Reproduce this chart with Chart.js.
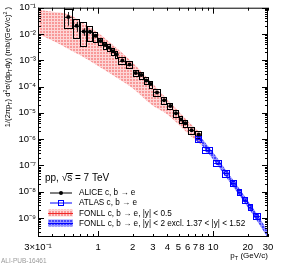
<!DOCTYPE html>
<html>
<head>
<meta charset="utf-8">
<script src="https://cdn.jsdelivr.net/npm/chart.js@4.4.0/dist/chart.umd.min.js"></script>
<style>
  html, body { margin: 0; padding: 0; background: #fff; }
  #wrap { width: 299px; height: 264px; }
</style>
</head>
<body>
<div id="wrap"><canvas id="myChart" width="299" height="264"></canvas></div>
<script>
// ALICE c,b -> e (bin edges, centres, values, stat err, syst box)
const aliceEdges = [0.5, 0.6, 0.7, 0.8, 0.9, 1.0, 1.1, 1.2, 1.3, 1.4, 1.5, 1.75, 2.0, 2.25, 2.5, 2.75, 3, 3.5, 4, 4.5, 5, 5.5, 6, 7, 8];
const alicePt = [0.55, 0.65, 0.75, 0.85, 0.95, 1.05, 1.15, 1.25, 1.35, 1.45, 1.625, 1.875, 2.125, 2.375, 2.625, 2.875, 3.25, 3.75, 4.25, 4.75, 5.25, 5.75, 6.5, 7.5];
const aliceY = [0.0447, 0.0205, 0.0125, 0.0122, 0.00863, 0.00541, 0.00383, 0.00306, 0.00222, 0.00167, 0.00098, 0.00069, 0.00033, 0.000273, 0.000169, 0.000124, 6.0e-5, 3.05e-5, 1.82e-5, 9.7e-6, 5.6e-6, 4.0e-6, 2.2e-6, 1.5e-6];
const aliceStat = [0.024, 0.0085, 0.004, 0.002, 0.0012, 0.0005, 0.0003, 0.0002, 0.00015, 0.0001, 5e-5, 3.5e-5, 1.5e-5, 1.2e-5, 8e-6, 6e-6, 3e-6, 1.5e-6, 9e-7, 5e-7, 3e-7, 2.2e-7, 1.2e-7, 1e-7];
const aliceSysHi = [0.0863, 0.0372, 0.029, 0.0193, 0.0115, 0.00713, 0.00505, 0.00406, 0.0030, 0.00222, 0.00132, 0.00093, 0.000446, 0.000369, 0.000228, 0.000167, 8.1e-5, 4.1e-5, 2.46e-5, 1.31e-5, 7.6e-6, 5.4e-6, 3.0e-6, 2.0e-6];
const aliceSysLo = [0.0165, 0.00684, 0.00363, 0.0056, 0.00483, 0.00373, 0.00275, 0.00222, 0.00164, 0.00121, 0.000725, 0.00051, 0.000244, 0.000202, 0.000125, 9.2e-5, 4.4e-5, 2.26e-5, 1.35e-5, 7.2e-6, 4.1e-6, 3.0e-6, 1.63e-6, 1.1e-6];

// ATLAS c,b -> e
const atlasEdges = [7, 8, 10, 12, 14, 16, 18, 20, 22, 26];
const atlasPt = [7.5, 9, 11, 13, 15, 17, 19, 21, 24];
const atlasY = [9.75e-7, 3.86e-7, 1.29e-7, 4.96e-8, 2.09e-8, 9.6e-9, 4.95e-9, 2.6e-9, 1.17e-9];
const atlasStat = [3e-8, 1.2e-8, 4e-9, 1.5e-9, 7e-10, 3.5e-10, 2e-10, 1.2e-10, 6e-11];
const atlasSysHi = [1.27e-6, 5.0e-7, 1.68e-7, 6.45e-8, 2.72e-8, 1.25e-8, 6.4e-9, 3.4e-9, 1.52e-9];
const atlasSysLo = [7.5e-7, 2.97e-7, 9.9e-8, 3.8e-8, 1.61e-8, 7.4e-9, 3.8e-9, 2.0e-9, 9.0e-10];

// FONLL |y| < 0.5 (red band)
const fonllPt = [0.3, 0.4, 0.55, 0.7, 1, 1.5, 2, 3, 4, 5, 6, 8];
const fonllMid = [0.042, 0.034, 0.0257, 0.0169, 0.00684, 0.00157, 3.93e-4, 6.95e-5, 2.25e-5, 8.7e-6, 3.66e-6, 1.0e-6];
const fonllHi = [0.084, 0.0695, 0.056, 0.0306, 0.0110, 0.00257, 8.1e-4, 1.26e-4, 3.24e-5, 1.18e-5, 4.95e-6, 1.54e-6];
const fonllLo = [0.0099, 0.0056, 0.0027, 0.00154, 6.1e-4, 2.0e-4, 8.7e-5, 1.85e-5, 8.7e-6, 3.66e-6, 1.68e-6, 5.9e-7];

// FONLL |y| < 2 (blue band)
const fonll2Pt = [7, 8, 10, 12, 15, 20, 25, 30];
const fonll2Mid = [1.36e-6, 7.7e-7, 2.3e-7, 7.8e-8, 2.03e-8, 3.45e-9, 8.3e-10, 2.25e-10];
const fonll2Hi = [1.84e-6, 1.04e-6, 3.1e-7, 1.05e-7, 2.74e-8, 4.66e-9, 1.12e-9, 3.04e-10];
const fonll2Lo = [1.0e-6, 5.7e-7, 1.7e-7, 5.8e-8, 1.5e-8, 2.56e-9, 6.1e-10, 1.67e-10];

// axes
const xTickVals = [0.3, 1, 2, 3, 4, 5, 6, 7, 8, 10, 20, 30];
const xTickLabels = ["3\u00d710\u207b\u00b9", "1", "2", "3", "4", "5", "6", "7", "8", "10", "20", "30"];
const yTickVals = [1e-9, 1e-8, 1e-7, 1e-6, 1e-5, 1e-4, 1e-3, 1e-2, 1e-1];
const yTickLabels = ["10\u207b\u2079", "10\u207b\u2078", "10\u207b\u2077", "10\u207b\u2076", "10\u207b\u2075", "10\u207b\u2074", "10\u207b\u00b3", "10\u207b\u00b2", "10\u207b\u00b9"];

const legendLabels = ["ALICE c, b \u2192 e", "ATLAS c, b \u2192 e", "FONLL c, b \u2192 e, |y| < 0.5", "FONLL c, b \u2192 e, |y| < 2 excl. 1.37 < |y| < 1.52"];
const systemLabel = "pp, \u221as = 7 TeV";

const FONT = "'Liberation Sans', Arial, sans-serif";

function makePattern(bg, fg) {
  const c = document.createElement("canvas");
  c.width = 3; c.height = 3;
  const g = c.getContext("2d");
  g.fillStyle = bg; g.fillRect(0, 0, 3, 3);
  g.fillStyle = fg; g.fillRect(0, 0, 3, 1); g.fillRect(0, 0, 1, 3);
  return g.createPattern(c, "repeat");
}
const redFill = makePattern("rgb(248,152,152)", "rgb(253,214,214)");
const blueFill = makePattern("rgb(70,70,255)", "rgb(150,150,255)");

function pts(xs, ys) { return xs.map((x, i) => ({ x: x, y: ys[i] })); }

// text with sub/superscript pieces
function richWidth(ctx, parts, size) {
  let w = 0;
  for (const p of parts) {
    const s = p.sub || p.sup ? size * 0.7 : size;
    ctx.font = s + "px " + FONT;
    w += ctx.measureText(p.t).width;
  }
  return w;
}
function drawRich(ctx, parts, x, y, size) {
  for (const p of parts) {
    const s = p.sub || p.sup ? size * 0.7 : size;
    ctx.font = s + "px " + FONT;
    let dy = 0;
    if (p.sub) dy = size * 0.25;
    if (p.sup) dy = -size * 0.4;
    ctx.fillText(p.t, x, y + dy);
    x += ctx.measureText(p.t).width;
  }
}

const errorBoxes = {
  id: "errorBoxes",
  beforeDatasetDraw(chart, args) {
    if (args.index !== 1) return;
    const { ctx, chartArea: a, scales: { x, y } } = chart;
    ctx.save();
    ctx.beginPath();
    ctx.rect(a.left, a.top, a.right - a.left, a.bottom - a.top);
    ctx.clip();
    ctx.lineWidth = 1;
    function boxes(edges, hi, lo, color) {
      ctx.strokeStyle = color;
      for (let i = 0; i < hi.length; i++) {
        const x0 = Math.round(x.getPixelForValue(edges[i])) + 0.5;
        const x1 = Math.round(x.getPixelForValue(edges[i + 1])) - 0.5;
        const y0 = Math.round(y.getPixelForValue(hi[i])) + 0.5;
        const y1 = Math.round(y.getPixelForValue(lo[i])) + 0.5;
        ctx.strokeRect(x0, y0, x1 - x0, y1 - y0);
      }
    }
    function bars(edges, xs, ys, st, color) {
      ctx.strokeStyle = color;
      ctx.beginPath();
      for (let i = 0; i < xs.length; i++) {
        const px = Math.round(x.getPixelForValue(xs[i])) + 0.5;
        const py = Math.round(y.getPixelForValue(ys[i])) + 0.5;
        ctx.moveTo(px, y.getPixelForValue(ys[i] + st[i]));
        ctx.lineTo(px, y.getPixelForValue(Math.max(ys[i] - st[i], 1e-12)));
        ctx.moveTo(x.getPixelForValue(edges[i]) + 1, py);
        ctx.lineTo(x.getPixelForValue(edges[i + 1]) - 1, py);
      }
      ctx.stroke();
    }
    boxes(aliceEdges, aliceSysHi, aliceSysLo, "#000");
    boxes(atlasEdges, atlasSysHi, atlasSysLo, "#00f");
    bars(aliceEdges, alicePt, aliceY, aliceStat, "#222");
    bars(atlasEdges, atlasPt, atlasY, atlasStat, "#00f");
    ctx.restore();
  }
};

const frameAndText = {
  id: "frameAndText",
  afterDraw(chart) {
    const { ctx, chartArea: a, scales: { x, y } } = chart;
    ctx.save();
    ctx.strokeStyle = "#000";
    ctx.lineWidth = 1;
    ctx.strokeRect(a.left + 0.5, a.top + 0.5, a.right - a.left - 1, a.bottom - a.top - 1);

    // tick marks inside the frame
    ctx.beginPath();
    for (let e = -10; e <= -1; e++) {
      for (let m = 1; m <= 9; m++) {
        const v = m * Math.pow(10, e);
        if (v < y.min * 0.999 || v > y.max * 1.001) continue;
        const py = Math.round(y.getPixelForValue(v)) + 0.5;
        const len = m === 1 ? 6 : 3;
        ctx.moveTo(a.left, py); ctx.lineTo(a.left + len, py);
        ctx.moveTo(a.right, py); ctx.lineTo(a.right - len, py);
      }
    }
    for (let e = -1; e <= 1; e++) {
      for (let m = 1; m <= 9; m++) {
        const v = m * Math.pow(10, e);
        if (v < x.min * 0.999 || v > x.max * 1.001) continue;
        const px = Math.round(x.getPixelForValue(v)) + 0.5;
        const len = m === 1 ? 6 : 3;
        ctx.moveTo(px, a.bottom); ctx.lineTo(px, a.bottom - len);
        ctx.moveTo(px, a.top); ctx.lineTo(px, a.top + len);
      }
    }
    ctx.stroke();

    ctx.fillStyle = "#000";
    ctx.textBaseline = "alphabetic";
    // x title
    const xt = [{ t: "p" }, { t: "T", sub: true }, { t: " (GeV/c)" }];
    const xw = richWidth(ctx, xt, 8);
    drawRich(ctx, xt, a.right - xw, 258, 8);

    // y title, rotated
    const yt = [{ t: "1/(2\u03c0p" }, { t: "T", sub: true }, { t: ") d" }, { t: "2", sup: true }, { t: "\u03c3/(dp" }, { t: "T", sub: true }, { t: "dy) (mb/(GeV/c)" }, { t: "2", sup: true }, { t: " )" }];
    ctx.save();
    ctx.translate(10, 7);
    ctx.rotate(-Math.PI / 2);
    const yw = richWidth(ctx, yt, 7.6);
    drawRich(ctx, yt, -yw, 0, 7.6);
    ctx.restore();

    // legend
    ctx.font = "10px " + FONT;
    ctx.fillText(systemLabel, 45, 181);
    const preW = ctx.measureText("pp, \u221a").width;
    const sW = ctx.measureText("s").width;
    ctx.beginPath(); ctx.moveTo(45 + preW - 0.5, 173.5); ctx.lineTo(45 + preW + sW + 0.5, 173.5); ctx.stroke();

    const rows = [192.5, 202.5, 213, 223];
    ctx.font = "8.2px " + FONT;
    ctx.textBaseline = "middle";
    legendLabels.forEach((t, i) => ctx.fillText(t, 79, rows[i] + 0.5));

    ctx.lineWidth = 1;
    ctx.strokeStyle = "#000";
    ctx.beginPath(); ctx.moveTo(50, rows[0] + 0.5); ctx.lineTo(72, rows[0] + 0.5); ctx.stroke();
    ctx.fillStyle = "#000";
    ctx.beginPath(); ctx.arc(61, rows[0] + 0.5, 2, 0, Math.PI * 2); ctx.fill();

    ctx.strokeStyle = "#00f";
    ctx.beginPath(); ctx.moveTo(50, rows[1] + 0.5); ctx.lineTo(72, rows[1] + 0.5); ctx.stroke();
    ctx.strokeRect(58.5, rows[1] - 2, 5, 5);

    ctx.fillStyle = redFill;
    ctx.fillRect(48, rows[2] - 3.5, 25, 7);
    ctx.strokeStyle = "rgb(240,40,40)";
    ctx.beginPath(); ctx.moveTo(48, rows[2] + 0.5); ctx.lineTo(73, rows[2] + 0.5); ctx.stroke();
    ctx.fillStyle = blueFill;
    ctx.fillRect(48, rows[3] - 3.5, 25, 7);
    ctx.strokeStyle = "#00f";
    ctx.beginPath(); ctx.moveTo(48, rows[3] + 0.5); ctx.lineTo(73, rows[3] + 0.5); ctx.stroke();

    ctx.textBaseline = "alphabetic";
    ctx.fillStyle = "#9a9a9a";
    ctx.font = "6.5px " + FONT;
    ctx.fillText("ALI-PUB-16461", 1, 263);
    ctx.restore();
  }
};

const config = {
  type: "line",
  data: {
    datasets: [
      { label: "ALICE", type: "scatter", data: pts(alicePt, aliceY), pointStyle: "circle", pointRadius: 2, backgroundColor: "#000", borderColor: "#000", borderWidth: 0 },
      { label: "ATLAS", type: "scatter", data: pts(atlasPt, atlasY), pointStyle: "rect", pointRadius: 2.5, backgroundColor: "rgba(0,0,0,0)", borderColor: "#00f", borderWidth: 1 },
      { label: "fonllHi", data: pts(fonllPt, fonllHi), fill: "+1", backgroundColor: redFill, borderWidth: 0, pointRadius: 0, cubicInterpolationMode: "monotone" },
      { label: "fonllLo", data: pts(fonllPt, fonllLo), fill: false, borderWidth: 0, pointRadius: 0, cubicInterpolationMode: "monotone" },
      { label: "fonllMid", data: pts(fonllPt, fonllMid), fill: false, borderColor: "rgb(240,40,40)", borderWidth: 1, pointRadius: 0, cubicInterpolationMode: "monotone" },
      { label: "fonll2Hi", data: pts(fonll2Pt, fonll2Hi), fill: "+1", backgroundColor: blueFill, borderWidth: 0, pointRadius: 0, cubicInterpolationMode: "monotone" },
      { label: "fonll2Lo", data: pts(fonll2Pt, fonll2Lo), fill: false, borderWidth: 0, pointRadius: 0, cubicInterpolationMode: "monotone" },
      { label: "fonll2Mid", data: pts(fonll2Pt, fonll2Mid), fill: false, borderColor: "#00f", borderWidth: 1.2, pointRadius: 0, cubicInterpolationMode: "monotone" }
    ]
  },
  options: {
    responsive: false,
    animation: false,
    devicePixelRatio: 1,
    layout: { padding: { top: 5, right: 31, left: 0, bottom: 0 } },
    plugins: { legend: { display: false }, tooltip: { enabled: false } },
    scales: {
      x: {
        type: "logarithmic", min: 0.3, max: 30,
        afterBuildTicks: (s) => { s.ticks = xTickVals.map((v) => ({ value: v })); },
        afterFit: (s) => { s.height = 27; },
        grid: { display: false, drawTicks: false },
        border: { display: false },
        ticks: { autoSkip: false, maxRotation: 0, padding: 5, color: "#000", font: { family: FONT, size: 9.5 }, callback: (v, i) => xTickLabels[i] }
      },
      y: {
        type: "logarithmic", min: 1.9e-10, max: 0.1,
        afterBuildTicks: (s) => { s.ticks = yTickVals.map((v) => ({ value: v })); },
        afterFit: (s) => { s.width = 38; },
        grid: { display: false, drawTicks: false },
        border: { display: false },
        ticks: { autoSkip: false, padding: 2, color: "#000", font: { family: FONT, size: 9.5 }, callback: (v, i) => yTickLabels[i] }
      }
    }
  },
  plugins: [errorBoxes, frameAndText]
};

const myChart = new Chart(document.getElementById("myChart"), config);
</script>
</body>
</html>
